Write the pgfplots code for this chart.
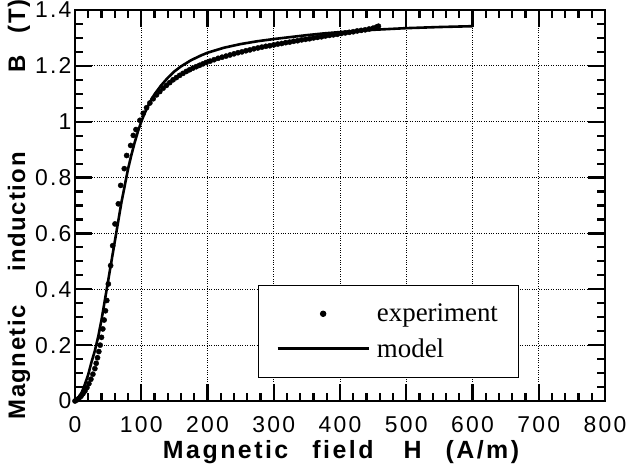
\documentclass[border=0pt]{standalone}
\usepackage{fontspec}
\usepackage{pgfplots}
\pgfplotsset{compat=1.18}
\setmainfont{Liberation Serif}
\newfontfamily\ticksfont[LetterSpace=10]{Liberation Sans}
\newfontfamily\xlabfont[LetterSpace=10]{Liberation Sans}
\newfontfamily\ylabfont[LetterSpace=6]{Liberation Sans}

% measured B-H curve (dots)
\pgfplotstableread{
H B
0 0
3 0.004
6 0.010
9 0.017
12 0.026
15 0.036
18 0.048
21 0.062
24 0.078
27 0.096
30 0.116
32 0.135
34 0.155
36 0.177
38 0.200
40 0.228
42 0.258
44 0.290
46 0.323
48 0.360
50.3 0.419
53.8 0.485
56.9 0.556
60.4 0.634
65.4 0.706
69 0.772
74.4 0.832
78 0.879
84 0.915
88 0.951
92 0.972
98 1.005
103 1.030
108 1.050
113 1.067
118 1.082
123 1.096
128 1.108
133 1.120
138 1.130
143 1.140
148 1.150
153 1.158
158 1.166
163 1.173
168 1.180
173 1.186
178 1.192
183 1.197
188 1.202
193 1.207
198 1.212
204 1.217
210 1.222
216 1.227
222 1.231
228 1.235
234 1.239
240 1.243
246 1.247
252 1.250
258 1.254
264 1.257
270 1.261
276 1.264
282 1.267
288 1.270
294 1.272
300 1.275
306 1.278
312 1.280
318 1.283
324 1.285
330 1.288
336 1.290
342 1.293
348 1.295
354 1.297
360 1.300
366 1.302
372 1.304
378 1.307
384 1.309
390 1.311
396 1.313
402 1.316
408 1.318
414 1.320
420 1.322
426 1.325
432 1.327
438 1.329
444 1.332
450 1.335
455 1.339
458 1.342
}\expdata

% computed magnetisation curve
\pgfplotstableread{
H B
0 0
5 0.012
10 0.030
15 0.060
20 0.095
25 0.140
30 0.180
35 0.230
40 0.290
45 0.360
50 0.430
55 0.500
60 0.570
65 0.640
70 0.710
75 0.770
80 0.830
85 0.880
90 0.925
95 0.965
100 1.000
105 1.030
110 1.055
115 1.078
120 1.098
130 1.130
140 1.157
150 1.180
160 1.198
175 1.220
190 1.237
200 1.247
225 1.265
250 1.278
275 1.288
300 1.296
325 1.303
350 1.310
375 1.316
400 1.321
450 1.329
500 1.335
550 1.339
600 1.342
}\modeldata

\begin{document}
\begin{tikzpicture}
\begin{axis}[
  scale only axis,
  width=530bp, height=391bp,
  xmin=0, xmax=800, ymin=0, ymax=1.4,
  xtick={0,100,200,300,400,500,600,700,800},
  ytick={0,0.2,0.4,0.6,0.8,1,1.2,1.4},
  minor x tick num=4, minor y tick num=3,
  xtick pos=both, ytick pos=both,
  tick align=inside,
  major tick length=17bp, minor tick length=8bp,
  every tick/.style={black, line width=2.2bp},
  every major tick/.append style={black, line width=2.2bp},
  every minor tick/.append style={black, line width=2.2bp},
  axis line style={line width=2.4bp},
  grid=major,
  major grid style={black, dotted, line width=0.9bp},
  /pgf/number format/assume math mode=true,
  yticklabel style={/pgf/number format/fixed, font=\ticksfont\fontsize{23}{23}\selectfont},
  xticklabel style={font=\ticksfont\fontsize{23}{23}\selectfont, anchor=base, yshift=-31bp},
  xlabel={\xlabfont\bfseries Magnetic\hspace{24bp}field\hspace{30bp}H\hspace{24bp}(A/m)},
  xlabel style={font=\fontsize{25}{25}\selectfont, at={(axis description cs:0.502,-0.148)}, anchor=base},
  ylabel={\ylabfont\bfseries Magnetic\hspace{34bp}induction\hspace{80bp}B\hspace{22bp}(T)},
  ylabel style={font=\fontsize{24}{24}\selectfont, at={(axis description cs:-0.094,0.49)}, anchor=base},
  legend cell align=left,
  legend style={at={(axis cs:276,0.082)}, anchor=south west, draw=black, line width=1bp,
    fill=white, font=\fontsize{27}{27}\selectfont, inner xsep=18bp, inner ysep=16bp,
    nodes={inner sep=3bp}, row sep=9bp, column sep=4bp},
]
\addplot[only marks, mark=*, mark size=2.6bp, black,
  legend image code/.code={\path[draw=none] (0bp,0bp) -- (91bp,0bp); \fill[black] (45.5bp,0bp) circle (2.7bp);}]
  table[x=H, y=B] {\expdata};
\addlegendentry{experiment}
\addplot[black, line width=2.6bp, line join=round,
  legend image code/.code={\draw[black, line width=2.6bp] (0bp,0bp) -- (91bp,0bp);}]
  table[x=H, y=B] {\modeldata};
\addlegendentry{model}
\coordinate (sw) at (rel axis cs:0,0);
\end{axis}
\pgfresetboundingbox
\path (sw) ++(-75bp,-70bp) rectangle ++(627bp,471bp);
\end{tikzpicture}
\end{document}
